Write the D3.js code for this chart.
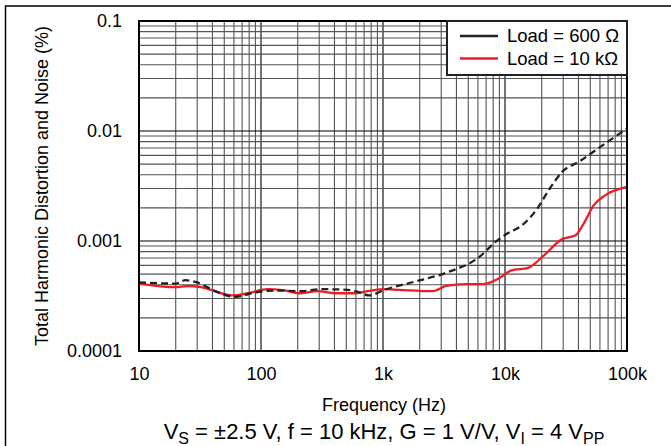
<!DOCTYPE html>
<html>
    <head>
        <script src="https://d3js.org/d3.v7.min.js"></script>
        <style>
          body { margin: 0; background: #ffffff; }
          #chart { width: 671px; height: 446px; }
          text { font-family: "Liberation Sans", Arial, sans-serif; fill: #000; }
        </style>
    </head>
    <body>
        <div id="chart"></div>
        <script>

            /* DATA */
            var freq600 = [10, 20, 24, 30, 42, 62, 88, 127, 213, 307, 510, 650, 770, 1030, 1790, 3300, 6200, 8350, 10200, 13800, 17900, 23300, 29400, 40800, 66200, 100000];
            var thd600 = [0.00042, 0.00041, 0.00044, 0.00042, 0.00035, 0.00031, 0.00034, 0.000355, 0.00035, 0.000365, 0.00036, 0.00034, 0.00032, 0.00036, 0.000425, 0.000515, 0.00072, 0.00098, 0.00115, 0.00139, 0.00189, 0.003, 0.00425, 0.0053, 0.0077, 0.0105];

            var freq10k = [10, 20, 25, 32, 42, 57, 78, 113, 156, 213, 290, 400, 585, 750, 1030, 1350, 2560, 3300, 4800, 6550, 9000, 11300, 15500, 20300, 29400, 37900, 44300, 53100, 66200, 100000];
            var thd10k = [0.00041, 0.00038, 0.00039, 0.00038, 0.00035, 0.00032, 0.000335, 0.000365, 0.000355, 0.000335, 0.00035, 0.000335, 0.000335, 0.00035, 0.000365, 0.00036, 0.00035, 0.00039, 0.000405, 0.000405, 0.00046, 0.00054, 0.00057, 0.00072, 0.00104, 0.00113, 0.00145, 0.0021, 0.0026, 0.0031];

            var xTicks = [10, 100, 1000, 10000, 100000];
            var xTickLabels = ["10", "100", "1k", "10k", "100k"];
            var yTicks = [0.1, 0.01, 0.001, 0.0001];
            var yTickLabels = ["0.1", "0.01", "0.001", "0.0001"];
            var seriesNames = ["Load = 600 \u03A9", "Load = 10 k\u03A9"];

            /* SVG */
            var width = 671, height = 446;
            var margin = {left: 139, right: 44, top: 21, bottom: 95};
            var svg = d3.select("#chart")
                .append("svg")
                .attr("width", width)
                .attr("height", height);

            // outer frame (top and left edges visible)
            svg.append("rect")
                .attr("x", 5.5).attr("y", 6)
                .attr("width", 700).attr("height", 500)
                .attr("fill", "none")
                .attr("stroke", "#000")
                .attr("stroke-width", 1.5);

            var x = d3.scaleLog().domain([10, 100000]).range([margin.left, width - margin.right]);
            var y = d3.scaleLog().domain([0.0001, 0.1]).range([height - margin.bottom, margin.top]);

            /* GRID */
            function minorAndMajor(lo, hi) {
                var out = [];
                for (var d = lo; d < hi; d *= 10) {
                    for (var k = 1; k <= 9; k++) out.push({v: d * k, major: k === 1});
                }
                out.push({v: hi, major: true});
                return out;
            }

            var grid = svg.append("g");
            grid.selectAll("line.vx")
                .data(minorAndMajor(10, 100000))
                .enter()
                .append("line")
                    .attr("x1", function(d) { return x(d.v); })
                    .attr("x2", function(d) { return x(d.v); })
                    .attr("y1", y(0.1))
                    .attr("y2", y(0.0001))
                    .attr("stroke", function(d) { return d.major ? "#000" : "#555"; })
                    .attr("stroke-width", 1.1);

            grid.selectAll("line.hy")
                .data(minorAndMajor(0.0001, 0.1))
                .enter()
                .append("line")
                    .attr("y1", function(d) { return y(d.v); })
                    .attr("y2", function(d) { return y(d.v); })
                    .attr("x1", x(10))
                    .attr("x2", x(100000))
                    .attr("stroke", function(d) { return d.major ? "#000" : "#555"; })
                    .attr("stroke-width", 1.1);

            /* CURVES */
            var line = d3.line()
                .x(function(d) { return x(d[0]); })
                .y(function(d) { return y(d[1]); })
                .curve(d3.curveMonotoneX);

            svg.append("path")
                .datum(d3.zip(freq10k, thd10k))
                .attr("d", line)
                .attr("fill", "none")
                .attr("stroke", "#ee1c25")
                .attr("stroke-width", 2.3);

            svg.append("path")
                .datum(d3.zip(freq600, thd600))
                .attr("d", line)
                .attr("fill", "none")
                .attr("stroke", "#222")
                .attr("stroke-width", 2.3)
                .attr("stroke-dasharray", "7,4");

            // plot border
            svg.append("rect")
                .attr("x", x(10)).attr("y", y(0.1))
                .attr("width", x(100000) - x(10))
                .attr("height", y(0.0001) - y(0.1))
                .attr("fill", "none")
                .attr("stroke", "#000")
                .attr("stroke-width", 2);

            /* AXES */
            var xAxis = svg.append("g")
                .attr("transform", "translate(0," + y(0.0001) + ")")
                .call(d3.axisBottom(x).tickValues(xTicks).tickSize(0).tickPadding(16)
                    .tickFormat(function(d, i) { return xTickLabels[i]; }));
            xAxis.select(".domain").remove();

            var yAxis = svg.append("g")
                .attr("transform", "translate(" + x(10) + ",0)")
                .call(d3.axisLeft(y).tickValues(yTicks).tickSize(0).tickPadding(17)
                    .tickFormat(function(d, i) { return yTickLabels[i]; }));
            yAxis.select(".domain").remove();

            svg.selectAll(".tick text")
                .attr("font-family", "Liberation Sans, Arial, sans-serif")
                .attr("font-size", 18)
                .attr("fill", "#000");

            /* TITLES */
            svg.append("text")
                .attr("x", 384).attr("y", 411)
                .attr("text-anchor", "middle")
                .attr("font-size", 18)
                .text("Frequency (Hz)");

            svg.append("text")
                .attr("transform", "translate(48,186) rotate(-90)")
                .attr("text-anchor", "middle")
                .attr("font-size", 18)
                .text("Total Harmonic Distortion and Noise (%)");

            var sub = svg.append("text")
                .attr("x", 384).attr("y", 439)
                .attr("text-anchor", "middle")
                .attr("font-size", 22);
            sub.append("tspan").text("V");
            sub.append("tspan").attr("dy", 5).attr("font-size", 16).text("S");
            sub.append("tspan").attr("dy", -5).text(" = \u00B12.5 V, f = 10 kHz, G = 1 V/V, V");
            sub.append("tspan").attr("dy", 5).attr("font-size", 16).text("I");
            sub.append("tspan").attr("dy", -5).text(" = 4 V");
            sub.append("tspan").attr("dy", 5).attr("font-size", 16).text("PP");

            /* LEGEND */
            var legend = svg.append("g");
            legend.append("rect")
                .attr("x", 447).attr("y", y(0.1))
                .attr("width", x(100000) - 447)
                .attr("height", 54)
                .attr("fill", "#fff")
                .attr("stroke", "#222")
                .attr("stroke-width", 2);

            var legendColors = ["#222", "#ee1c25"];
            legend.selectAll("line.key")
                .data(seriesNames)
                .enter()
                .append("line")
                    .attr("x1", 460).attr("x2", 498)
                    .attr("y1", function(d, i) { return 36 + i * 22.5; })
                    .attr("y2", function(d, i) { return 36 + i * 22.5; })
                    .attr("stroke", function(d, i) { return legendColors[i]; })
                    .attr("stroke-width", 2.3);

            legend.selectAll("text.key")
                .data(seriesNames)
                .enter()
                .append("text")
                    .attr("x", 507)
                    .attr("y", function(d, i) { return 42 + i * 22.5; })
                    .attr("font-size", 18.5)
                    .text(function(d) { return d; });

        </script>
    </body>
</html>
